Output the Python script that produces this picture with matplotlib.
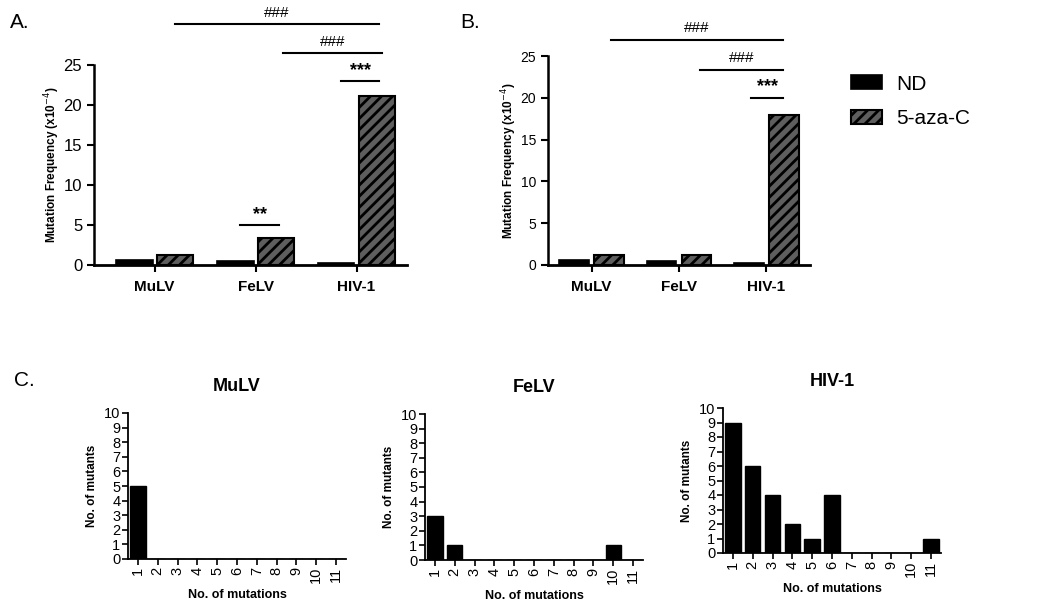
import numpy as np
import matplotlib
matplotlib.use('Agg')
import matplotlib.pyplot as plt

plt.rcParams['font.family'] = ['Liberation Sans', 'DejaVu Sans']
plt.rcParams['hatch.linewidth'] = 2.0

# Données panneaux A et B (fréquence de mutation x10^-4)
viruses = ['MuLV', 'FeLV', 'HIV-1']
nd_a = [0.6, 0.5, 0.2]
aza_a = [1.2, 3.4, 21.1]
nd_b = [0.6, 0.5, 0.2]
aza_b = [1.2, 1.2, 18.0]

# Données panneau C (nombre de mutants par nombre de mutations)
n_mutations = list(range(1, 12))
mulv_counts = [5, 0, 0, 0, 0, 0, 0, 0, 0, 0, 0]
felv_counts = [3, 1, 0, 0, 0, 0, 0, 0, 0, 1, 0]
hiv_counts = [9, 6, 4, 2, 1, 4, 0, 0, 0, 0, 1]

W, H = 1050, 610
fig = plt.figure(figsize=(W / 100, H / 100), dpi=100)


def box(left, top, right, bottom):
    # coins en pixels -> coordonnées de la figure
    return [left / W, 1 - bottom / H, (right - left) / W, (bottom - top) / H]


def bracket(ax, x0, x1, y, label, dy, size=11, weight='normal'):
    ax.plot([x0, x1], [y, y], color='black', lw=1.5, clip_on=False)
    ax.text((x0 + x1) / 2, y + dy, label, ha='center', va='bottom',
            fontsize=size, fontweight=weight, clip_on=False)


def bar_panel(ax, nd, aza, width, xlim, tick_size, pad):
    x = np.arange(len(viruses))
    ax.bar(x - 0.2, nd, width, color='black', edgecolor='black', lw=1.2,
           label='ND')
    ax.bar(x + 0.2, aza, width, color='#5e5e5e', edgecolor='black', lw=1.5,
           hatch='///', label='5-aza-C')
    ax.set_xlim(*xlim)
    ax.set_ylim(0, 25)
    ax.set_yticks([0, 5, 10, 15, 20, 25])
    ax.set_xticks(x)
    ax.set_xticklabels(viruses, fontsize=11, fontweight='bold')
    ax.tick_params(axis='y', labelsize=tick_size, width=1.5, length=5)
    ax.tick_params(axis='x', width=1.5, length=5, pad=6)
    for s in ['top', 'right']:
        ax.spines[s].set_visible(False)
    ax.spines['left'].set_linewidth(1.8)
    ax.spines['bottom'].set_linewidth(2)
    ax.set_ylabel('Mutation Frequency (x10$^{-4}$)', fontsize=8.5,
                  fontweight='bold', labelpad=pad)
    return ax


# Panneau A
axA = fig.add_axes(box(94, 65, 407, 265))
bar_panel(axA, nd_a, aza_a, 0.36, (-0.6, 2.5), 12, 1)
bracket(axA, 0.2, 2.22, 30.1, '###', 0.5)
bracket(axA, 1.27, 2.25, 26.5, '###', 0.5)
bracket(axA, 1.85, 2.22, 23.0, '***', 0.3, size=13, weight='bold')
bracket(axA, 0.85, 1.23, 5.0, '**', 0.3, size=13, weight='bold')

# Panneau B
axB = fig.add_axes(box(548, 56, 810, 265))
bar_panel(axB, nd_b, aza_b, 0.34, (-0.5, 2.5), 10, 1)
bracket(axB, 0.22, 2.19, 26.9, '###', 0.6)
bracket(axB, 1.24, 2.19, 23.3, '###', 0.6)
bracket(axB, 1.83, 2.19, 20.0, '***', 0.3, size=13, weight='bold')

fig.legend(*axB.get_legend_handles_labels(), loc='upper left',
           bbox_to_anchor=(832 / W, 1 - 56 / H), frameon=False, fontsize=15,
           handlelength=1.5, handleheight=0.65, labelspacing=0.75,
           handletextpad=0.7)

fig.text(10 / W, 1 - 22 / H, 'A.', fontsize=15, va='center')
fig.text(460 / W, 1 - 22 / H, 'B.', fontsize=15, va='center')
fig.text(14 / W, 1 - 380 / H, 'C.', fontsize=15, va='center')

# Panneau C
panels_c = [
    ('MuLV', mulv_counts, box(128, 413, 346, 559)),
    ('FeLV', felv_counts, box(425, 414, 643, 560)),
    ('HIV-1', hiv_counts, box(723, 408, 941, 553)),
]
for title, counts, rect in panels_c:
    ax = fig.add_axes(rect)
    ax.bar(n_mutations, counts, 0.78, color='black', edgecolor='black')
    ax.set_xlim(0.5, 11.5)
    ax.set_ylim(0, 10)
    ax.set_yticks(range(0, 11))
    ax.set_xticks(n_mutations)
    ax.set_xticklabels([str(n) for n in n_mutations], rotation=90)
    ax.tick_params(labelsize=10.5, width=1.2, length=4, pad=1.5)
    for s in ['top', 'right']:
        ax.spines[s].set_visible(False)
    ax.spines['left'].set_linewidth(1.3)
    ax.spines['bottom'].set_linewidth(1.3)
    ax.set_xlabel('No. of mutations', fontsize=9, fontweight='bold')
    ax.set_ylabel('No. of mutants', fontsize=8.5, fontweight='bold')
    ax.set_title(title, fontsize=13, fontweight='bold', pad=16)

fig.savefig('out.png', dpi=100)
